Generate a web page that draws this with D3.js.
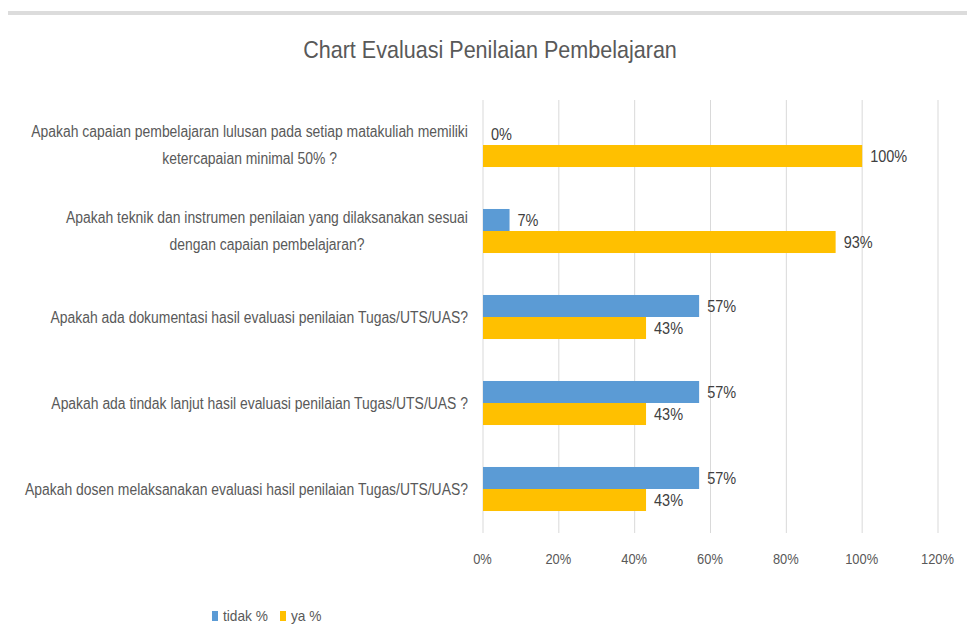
<!DOCTYPE html>
<html>
<head>
<meta charset="utf-8">
<script src="https://cdn.jsdelivr.net/npm/d3@7"></script>
<style>
   body { margin: 0; background: #fff; }
   svg { display: block; font-family: 'Liberation Sans', Arial, sans-serif; }
</style>
</head>
<body>
<div id="chart"></div>
<script>
const title = 'Chart Evaluasi Penilaian Pembelajaran';

const categories = [
   'Apakah capaian pembelajaran lulusan pada setiap matakuliah memiliki\nketercapaian minimal 50% ?',
   'Apakah teknik dan instrumen penilaian yang dilaksanakan sesuai\ndengan capaian pembelajaran?',
   'Apakah ada dokumentasi hasil evaluasi penilaian Tugas/UTS/UAS?',
   'Apakah ada tindak lanjut hasil evaluasi penilaian Tugas/UTS/UAS ?',
   'Apakah dosen melaksanakan evaluasi hasil penilaian Tugas/UTS/UAS?',
];

const seriesNames = ['tidak %', 'ya %'];
const tidakValues = [0, 7, 57, 57, 57];
const yaValues = [100, 93, 43, 43, 43];
const xTicks = [0, 20, 40, 60, 80, 100, 120];
const colors = ['#5B9BD5', '#FFC000'];

class BarChart {
   constructor(_config) {
      this.config = {
         parentElementSelector: _config.parentElementSelector,
         width: _config.width || 967,
         height: _config.height || 630,
         plot: _config.plot || { left: 483, right: 938, top: 102, bottom: 532 },
      };
      this.initVis();
   }

   // the source picture is horizontally squeezed, so measure a sample string
   // and work out how much to squash the text along x
   squeeze(sample, size, targetWidth) {
      const t = this.svg.append('text').attr('font-size', size).text(sample);
      const w = t.node().getComputedTextLength();
      t.remove();
      return targetWidth / w;
   }

   initVis() {
      const c = this.config;
      this.svg = d3
         .select(c.parentElementSelector)
         .append('svg')
         .attr('width', c.width)
         .attr('height', c.height);

      this.sxTitle = this.squeeze(title, 24, 374);
      this.sxCat = this.squeeze(categories[4], 16, 443);
      this.sxVal = this.squeeze('57%', 16, 29);
      this.sxTick = this.squeeze('100%', 15, 33);
      this.sxLegend = this.squeeze('tidak %', 15, 45);

      // grey strip along the top of the screenshot
      this.svg
         .append('rect')
         .attr('x', 8)
         .attr('y', 11)
         .attr('width', c.width - 8)
         .attr('height', 4)
         .attr('fill', '#dcdcdc');

      this.svg
         .append('text')
         .attr('transform', `translate(490,58) scale(${this.sxTitle},1)`)
         .attr('text-anchor', 'middle')
         .attr('font-size', 24)
         .attr('fill', '#595959')
         .text(title);

      this.xScale = d3
         .scaleLinear()
         .domain([0, 120])
         .range([c.plot.left, c.plot.right]);

      this.yScale = d3
         .scaleBand()
         .domain(categories)
         .range([c.plot.top, c.plot.bottom])
         .paddingInner(0.488)
         .paddingOuter(0.244);

      this.innerScale = d3
         .scaleBand()
         .domain(seriesNames)
         .range([0, this.yScale.bandwidth()]);

      this.updateVis();
   }

   updateVis() {
      const c = this.config;
      const data = categories.map((cat, i) => ({
         cat,
         values: [
            { key: seriesNames[0], v: tidakValues[i] },
            { key: seriesNames[1], v: yaValues[i] },
         ],
      }));

      // gridlines
      this.svg
         .append('g')
         .selectAll('line')
         .data(xTicks)
         .join('line')
         .attr('x1', (d) => this.xScale(d))
         .attr('x2', (d) => this.xScale(d))
         .attr('y1', c.plot.top - 2)
         .attr('y2', c.plot.bottom + 1)
         .attr('stroke', '#d9d9d9')
         .attr('stroke-width', 1);

      // x axis labels
      const xAxis = d3
         .axisBottom(this.xScale)
         .tickValues(xTicks)
         .tickSize(0)
         .tickPadding(0)
         .tickFormat((d) => d + '%');
      const xAxisG = this.svg
         .append('g')
         .attr('transform', `translate(-1,${c.plot.bottom + 21})`)
         .attr('font-family', null)
         .attr('font-size', null)
         .call(xAxis);
      xAxisG.select('.domain').remove();
      xAxisG
         .selectAll('text')
         .attr('font-size', 15)
         .attr('fill', '#595959')
         .attr('transform', `scale(${this.sxTick},1)`);

      // category labels, one text per line
      const lineH = 27;
      const catLines = [];
      categories.forEach((cat) => {
         const lines = cat.split('\n');
         const widths = lines.map((ln) => {
            const t = this.svg.append('text').attr('font-size', 16).text(ln);
            const w = t.node().getComputedTextLength() * this.sxCat;
            t.remove();
            return w;
         });
         const maxW = d3.max(widths);
         const cy = this.yScale(cat) + this.yScale.bandwidth() / 2;
         lines.forEach((ln, i) => {
            catLines.push({
               text: ln,
               x: 468 - maxW / 2,
               y: cy + (i - (lines.length - 1) / 2) * lineH,
            });
         });
      });
      this.svg
         .append('g')
         .selectAll('text')
         .data(catLines)
         .join('text')
         .attr('transform', (d) => `translate(${d.x},${d.y}) scale(${this.sxCat},1)`)
         .attr('text-anchor', 'middle')
         .attr('dy', '0.35em')
         .attr('font-size', 16)
         .attr('fill', '#595959')
         .text((d) => d.text);

      // bars
      const groups = this.svg
         .append('g')
         .selectAll('g')
         .data(data)
         .join('g')
         .attr('transform', (d) => `translate(0,${this.yScale(d.cat)})`);

      groups
         .selectAll('rect')
         .data((d) => d.values)
         .join('rect')
         .attr('x', this.xScale(0))
         .attr('y', (d) => this.innerScale(d.key))
         .attr('width', (d) => this.xScale(d.v) - this.xScale(0))
         .attr('height', this.innerScale.bandwidth())
         .attr('fill', (d, i) => colors[i]);

      groups
         .selectAll('text')
         .data((d) => d.values)
         .join('text')
         .attr(
            'transform',
            (d) =>
               `translate(${this.xScale(d.v) + 8},${
                  this.innerScale(d.key) + this.innerScale.bandwidth() / 2
               }) scale(${this.sxVal},1)`
         )
         .attr('dy', '0.35em')
         .attr('font-size', 16)
         .attr('fill', '#404040')
         .text((d) => d.v + '%');

      // legend
      const legend = this.svg
         .append('g')
         .attr('transform', 'translate(212,616)');
      const legendX = [0, 68];
      const items = legend
         .selectAll('g')
         .data(seriesNames)
         .join('g')
         .attr('transform', (d, i) => `translate(${legendX[i]},0)`);
      items
         .append('rect')
         .attr('x', 0)
         .attr('y', -5)
         .attr('width', 6)
         .attr('height', 10)
         .attr('fill', (d, i) => colors[i]);
      items
         .append('text')
         .attr('transform', `translate(11,0) scale(${this.sxLegend},1)`)
         .attr('dy', '0.35em')
         .attr('font-size', 15)
         .attr('fill', '#595959')
         .text((d) => d);
   }
}

new BarChart({ parentElementSelector: '#chart' });
</script>
</body>
</html>
